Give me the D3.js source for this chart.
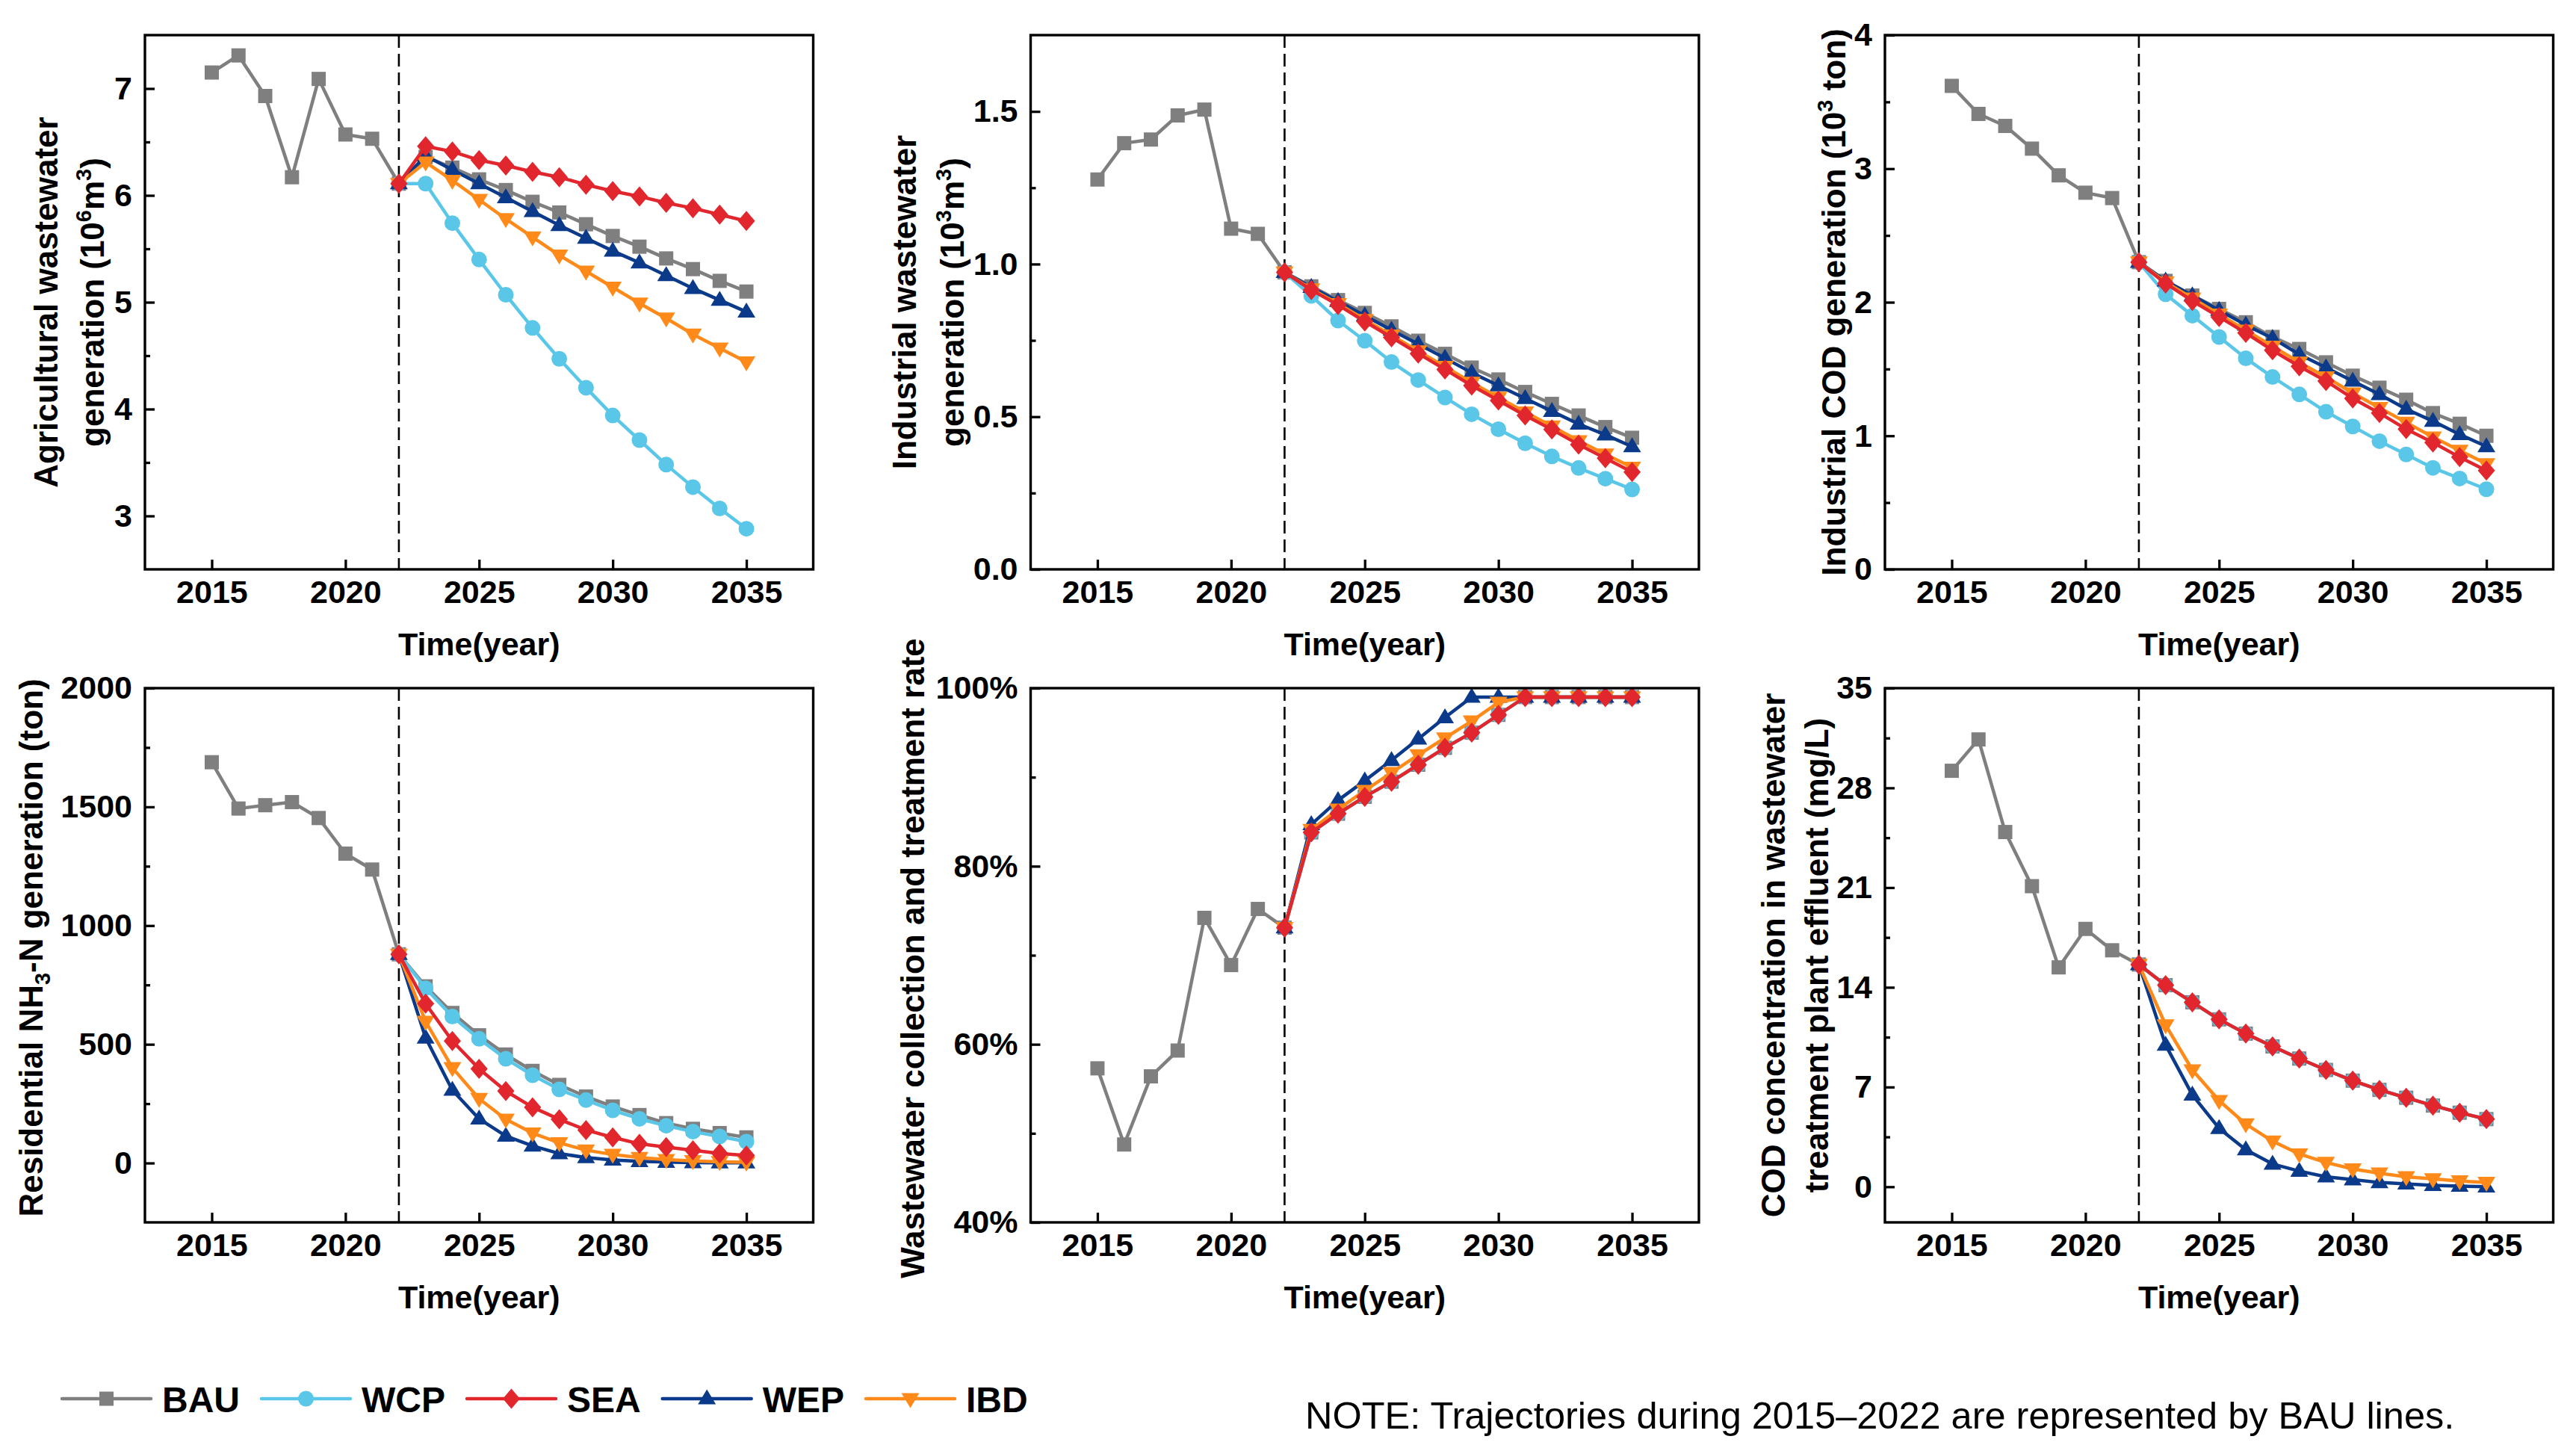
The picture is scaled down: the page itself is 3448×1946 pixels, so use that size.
<!DOCTYPE html>
<html>
<head>
<meta charset="utf-8">
<script src="https://cdn.jsdelivr.net/npm/d3@7"></script>
<style>
  html, body { margin: 0; padding: 0; background: #fff; }
  svg { display: block; }
  text { font-family: "Liberation Sans", Arial, Helvetica, sans-serif; }
</style>
</head>
<body>
<script>
// ---------------- DATA ----------------
const yearsAll  = [2015,2016,2017,2018,2019,2020,2021,2022,2023,2024,2025,2026,2027,2028,2029,2030,2031,2032,2033,2034,2035];
const yearsScen = [2022,2023,2024,2025,2026,2027,2028,2029,2030,2031,2032,2033,2034,2035];
const scenarioNames = ["BAU","WCP","SEA","WEP","IBD"];
const xTicks = [2015,2020,2025,2030,2035];

// Agricultural wastewater generation (10^6 m3)
const agriBAU = [7.15,7.31,6.93,6.17,7.09,6.57,6.53,6.11,6.36,6.26,6.15,6.05,5.94,5.84,5.73,5.62,5.52,5.41,5.31,5.20,5.10];
const agriWCP = [6.11,6.11,5.74,5.40,5.07,4.76,4.47,4.20,3.94,3.71,3.48,3.27,3.07,2.88];
const agriSEA = [6.11,6.46,6.41,6.33,6.28,6.22,6.17,6.10,6.04,5.99,5.93,5.88,5.82,5.76];
const agriWEP = [6.11,6.37,6.24,6.11,5.98,5.85,5.72,5.60,5.48,5.37,5.25,5.13,5.02,4.91];
const agriIBD = [6.11,6.31,6.14,5.96,5.78,5.61,5.44,5.29,5.14,4.99,4.85,4.70,4.57,4.44];
const agriTicks = [3,4,5,6,7];
const agriMinor = [3.5,4.5,5.5,6.5];

// Industrial wastewater generation (10^3 m3)
const indBAU = [1.277,1.396,1.408,1.487,1.506,1.116,1.099,0.973,0.927,0.882,0.840,0.796,0.749,0.706,0.661,0.622,0.581,0.542,0.504,0.466,0.431];
const indWCP = [0.973,0.896,0.815,0.749,0.679,0.620,0.563,0.508,0.459,0.413,0.370,0.332,0.297,0.262];
const indSEA = [0.973,0.915,0.866,0.812,0.760,0.707,0.655,0.602,0.553,0.504,0.458,0.409,0.364,0.319];
const indWEP = [0.973,0.924,0.878,0.831,0.784,0.738,0.692,0.644,0.602,0.560,0.518,0.476,0.441,0.402];
const indIBD = [0.973,0.918,0.870,0.818,0.767,0.715,0.664,0.612,0.563,0.515,0.469,0.421,0.377,0.334];
const indTicks = [0,0.5,1.0,1.5];
const indMinor = [0.25,0.75,1.25];

// Industrial COD generation (10^3 ton)
const codBAU = [3.62,3.41,3.32,3.15,2.95,2.82,2.78,2.30,2.16,2.05,1.95,1.85,1.74,1.65,1.55,1.45,1.36,1.27,1.17,1.09,1.00];
const codWCP = [2.30,2.06,1.90,1.74,1.58,1.44,1.31,1.18,1.07,0.96,0.86,0.76,0.68,0.60];
const codSEA = [2.30,2.14,2.01,1.89,1.77,1.64,1.52,1.41,1.28,1.17,1.05,0.95,0.84,0.74];
const codWEP = [2.30,2.16,2.05,1.94,1.83,1.73,1.61,1.51,1.41,1.31,1.20,1.11,1.01,0.92];
const codIBD = [2.30,2.15,2.03,1.91,1.79,1.67,1.55,1.44,1.32,1.21,1.10,0.99,0.89,0.79];
const codTicks = [0,1,2,3,4];
const codMinor = [0.5,1.5,2.5,3.5];

// Residential NH3-N generation (ton)
const nhBAU = [1688,1493,1507,1520,1453,1303,1236,879,744,632,538,457,388,329,280,238,202,168,144,126,108];
const nhWCP = [879,736,617,523,439,370,310,265,222,186,157,132,112,90];
const nhSEA = [879,671,514,397,303,235,184,139,108,81,67,54,40,32];
const nhWEP = [879,527,307,186,114,72,40,23,13,7,4,2,1,1];
const nhIBD = [879,596,401,271,184,126,85,54,36,23,14,9,5,3];
const nhTicks = [0,500,1000,1500,2000];
const nhMinor = [250,750,1250,1750];

// Wastewater collection and treatment rate (%)
const rateBAU = [57.3,48.75,56.4,59.3,74.2,68.9,75.2,73.1,83.8,85.9,87.8,89.5,91.4,93.3,95.0,97.0,99,99,99,99,99];
const rateWCP = [73.1,83.8,85.9,87.8,89.5,91.4,93.3,95.0,97.0,99,99,99,99,99];
const rateSEA = [73.1,83.8,85.9,87.8,89.5,91.4,93.3,95.0,97.0,99,99,99,99,99];
const rateWEP = [73.1,84.7,87.4,89.6,91.9,94.3,96.7,99,99,99,99,99,99,99];
const rateIBD = [73.1,84.1,86.4,88.5,90.5,92.5,94.4,96.3,98.4,99,99,99,99,99];
const rateTicks = [40,60,80,100];
const rateMinor = [50,70,90];

// COD concentration in WWTP effluent (mg/L)
const effBAU = [29.2,31.4,24.9,21.1,15.4,18.1,16.6,15.6,14.15,12.95,11.75,10.75,9.85,9.0,8.2,7.45,6.8,6.25,5.7,5.2,4.75];
const effWCP = [15.6,14.15,12.95,11.75,10.75,9.85,9.0,8.2,7.45,6.8,6.25,5.7,5.2,4.75];
const effSEA = [15.6,14.15,12.95,11.75,10.75,9.85,9.0,8.2,7.45,6.8,6.25,5.7,5.2,4.75];
const effWEP = [15.6,9.95,6.45,4.1,2.6,1.6,1.1,0.7,0.5,0.3,0.2,0.1,0.05,0.0];
const effIBD = [15.6,11.35,8.2,6.05,4.4,3.2,2.3,1.7,1.25,0.95,0.7,0.55,0.4,0.3];
const effTicks = [0,7,14,21,28,35];
const effMinor = [3.5,10.5,17.5,24.5,31.5];

const noteText = "NOTE: Trajectories during 2015\u20132022 are represented by BAU lines.";

// ---------------- STYLE ----------------
const W = 3448, H = 1946;
const colors = { BAU:"#7f7f7f", WCP:"#5bc7e8", SEA:"#e1262d", WEP:"#0b3a8a", IBD:"#ff8a1a" };
const drawOrder = ["BAU","WCP","WEP","IBD","SEA"];
const colX = [194, 1379.5, 2523];
const rowY = [47, 921];
const PW = 894.5, PH = 715;

// custom marker shapes
const shapes = {
  BAU: { draw(c){ const s=9.5; c.moveTo(-s,-s); c.lineTo(s,-s); c.lineTo(s,s); c.lineTo(-s,s); c.closePath(); } },
  WCP: { draw(c){ const r=10.5; c.moveTo(r,0); c.arc(0,0,r,0,2*Math.PI); } },
  SEA: { draw(c){ const w=11.5, h=13.5; c.moveTo(0,-h); c.lineTo(w,0); c.lineTo(0,h); c.lineTo(-w,0); c.closePath(); } },
  WEP: { draw(c){ const w=12, h=20; c.moveTo(0,-h*0.62); c.lineTo(w,h*0.38); c.lineTo(-w,h*0.38); c.closePath(); } },
  IBD: { draw(c){ const w=12, h=20; c.moveTo(0,h*0.62); c.lineTo(w,-h*0.38); c.lineTo(-w,-h*0.38); c.closePath(); } }
};

const panels = [
  { col:0,row:0, domain:[2.5,7.5], ticks:agriTicks, minor:agriMinor, fmt:d=>String(d),
    data:{BAU:agriBAU,WCP:agriWCP,SEA:agriSEA,WEP:agriWEP,IBD:agriIBD},
    label:[ [["Agricultural wastewater",""]], [["generation (10",""],["6","sup"],["m",""],["3","sup"],[")",""]] ], labelX:[-117,-55] },
  { col:1,row:0, domain:[0,1.75], ticks:indTicks, minor:indMinor, fmt:d3.format(".1f"),
    data:{BAU:indBAU,WCP:indWCP,SEA:indSEA,WEP:indWEP,IBD:indIBD},
    label:[ [["Industrial wastewater",""]], [["generation (10",""],["3","sup"],["m",""],["3","sup"],[")",""]] ], labelX:[-154,-90] },
  { col:2,row:0, domain:[0,4], ticks:codTicks, minor:codMinor, fmt:d=>String(d),
    data:{BAU:codBAU,WCP:codWCP,SEA:codSEA,WEP:codWEP,IBD:codIBD},
    label:[ [["Industrial COD generation (10",""],["3","sup"],[" ton)",""]] ], labelX:[-53] },
  { col:0,row:1, domain:[-250,2000], ticks:nhTicks, minor:nhMinor, fmt:d=>String(d),
    data:{BAU:nhBAU,WCP:nhWCP,SEA:nhSEA,WEP:nhWEP,IBD:nhIBD},
    label:[ [["Residential NH",""],["3","sub"],["-N generation (ton)",""]] ], labelX:[-137], labelDY:-10 },
  { col:1,row:1, domain:[40,100], ticks:rateTicks, minor:rateMinor, fmt:d=>d+"%",
    data:{BAU:rateBAU,WCP:rateWCP,SEA:rateSEA,WEP:rateWEP,IBD:rateIBD},
    label:[ [["Wastewater collection and treatment rate",""]] ], labelX:[-143], labelDY:4 },
  { col:2,row:1, domain:[-2.5,35], ticks:effTicks, minor:effMinor, fmt:d=>String(d),
    data:{BAU:effBAU,WCP:effWCP,SEA:effSEA,WEP:effWEP,IBD:effIBD},
    label:[ [["COD concentration in wastewater",""]], [["treatment plant effluent (mg/L)",""]] ], labelX:[-134,-76] }
];

// ---------------- DRAW ----------------
const svg = d3.select("body").append("svg").attr("width", W).attr("height", H)
  .attr("viewBox", `0 0 ${W} ${H}`);
svg.append("rect").attr("width", W).attr("height", H).attr("fill", "#fff");

panels.forEach(p => {
  const x0 = colX[p.col], y0 = rowY[p.row];
  const g = svg.append("g").attr("transform", `translate(${x0},${y0})`);
  const x = d3.scaleLinear().domain([2012.5, 2037.5]).range([0, PW]);
  const y = d3.scaleLinear().domain(p.domain).range([PH, 0]);

  // axes
  const yAx = g.append("g").call(d3.axisLeft(y).tickValues(p.ticks).tickFormat(p.fmt)
      .tickSizeInner(-13).tickSizeOuter(0).tickPadding(17));
  const yMin = g.append("g").call(d3.axisLeft(y).tickValues(p.minor).tickFormat("")
      .tickSizeInner(-7).tickSizeOuter(0));
  const xAx = g.append("g").attr("transform", `translate(0,${PH})`)
    .call(d3.axisBottom(x).tickValues(xTicks).tickFormat(d3.format("d"))
      .tickSizeInner(-13).tickSizeOuter(0).tickPadding(14));
  [yAx, yMin, xAx].forEach(a => {
    a.select(".domain").remove();
    a.selectAll(".tick line").attr("stroke", "#000").attr("stroke-width", 3.3);
    a.selectAll(".tick text").attr("fill", "#000").style("font-size", "43px")
      .style("font-weight", "bold").style("font-family", '"Liberation Sans", Arial, sans-serif');
  });

  // dashed line at 2022
  g.append("line").attr("x1", x(2022)).attr("x2", x(2022)).attr("y1", 0).attr("y2", PH)
    .attr("stroke", "#000").attr("stroke-width", 2.6).attr("stroke-dasharray", "17,8");

  // series
  const line = d3.line().x(d => x(d[0])).y(d => y(d[1]));
  drawOrder.forEach(name => {
    const vals = p.data[name];
    const yrs = name === "BAU" ? yearsAll : yearsScen;
    const pts = yrs.map((yr, i) => [yr, vals[i]]);
    const sg = g.append("g").attr("class", "series-" + name);
    sg.append("path").attr("d", line(pts)).attr("fill", "none")
      .attr("stroke", colors[name]).attr("stroke-width", 4.5).attr("stroke-linejoin", "round");
    sg.selectAll("path.m").data(pts).enter().append("path").attr("class", "m")
      .attr("d", d3.symbol().type(shapes[name])())
      .attr("transform", d => `translate(${x(d[0])},${y(d[1])})`)
      .attr("fill", colors[name]);
  });

  // frame
  g.append("rect").attr("x", 0).attr("y", 0).attr("width", PW).attr("height", PH)
    .attr("fill", "none").attr("stroke", "#000").attr("stroke-width", 3.4);

  // x title
  g.append("text").attr("x", PW / 2).attr("y", PH + 115).attr("text-anchor", "middle")
    .style("font-size", "43px").style("font-weight", "bold").text("Time(year)");

  // y title
  p.label.forEach((segs, li) => {
    const t = g.append("text")
      .attr("transform", `translate(${p.labelX[li]},${PH / 2 + (p.labelDY || 0)}) rotate(-90)`)
      .attr("text-anchor", "middle").style("font-size", "44px").style("font-weight", "bold");
    let shift = 0;
    segs.forEach(([txt, type]) => {
      const ts = t.append("tspan").text(txt);
      let target = type === "sup" ? -17 : type === "sub" ? 10 : 0;
      ts.attr("dy", target - shift);
      shift = target;
      if (type) ts.style("font-size", "29px");
    });
  });
});

// legend
const lg = svg.append("g");
let lx = 83;
const ly = 1872;
scenarioNames.forEach(name => {
  lg.append("line").attr("x1", lx).attr("x2", lx + 119).attr("y1", ly).attr("y2", ly)
    .attr("stroke", colors[name]).attr("stroke-width", 4.5).attr("stroke-linecap", "round");
  lg.append("path").attr("d", d3.symbol().type(shapes[name])())
    .attr("transform", `translate(${lx + 59.5},${ly})`).attr("fill", colors[name]);
  const t = lg.append("text").attr("x", lx + 134).attr("y", 1890)
    .style("font-size", "48px").style("font-weight", "bold").text(name);
  lx = lx + 134 + t.node().getComputedTextLength() + 29;
});

svg.append("text").attr("x", 1747).attr("y", 1912)
  .style("font-size", "50.5px").style("font-weight", "normal").text(noteText);
</script>
</body>
</html>
